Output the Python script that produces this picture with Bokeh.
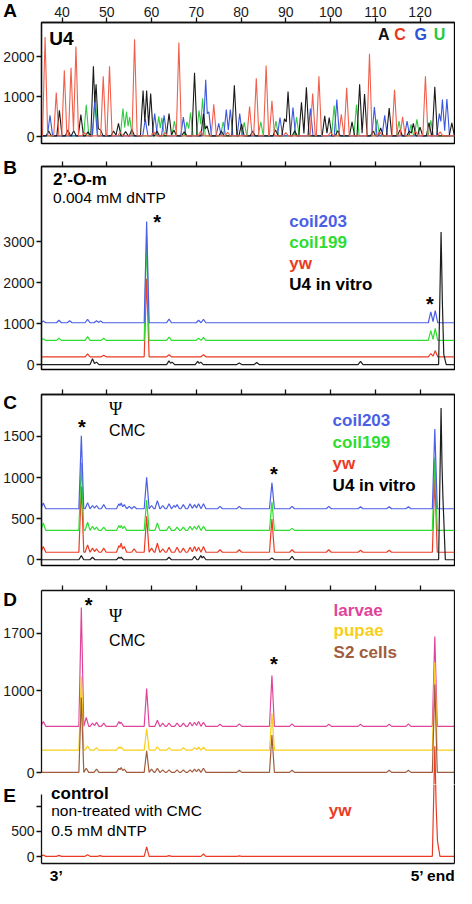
from bokeh.plotting import figure
from bokeh.models import Range1d, LinearAxis, FixedTicker, Label
from bokeh.layouts import column
from bokeh.core.properties import value
from bokeh.embed import file_html
from bokeh.resources import INLINE

# ---------------- data ----------------
X_RANGE = (35.4, 127.7)
TOP_TICKS = [40, 50, 60, 70, 80, 90, 100, 110, 120]
E_END_TICKS = [38.7, 123.3]
E_END_LABELS = ["3\u2019", "5\u2019 end"]

# Panel A: sequencing ladder peaks (position, height)
A_C = [(36.2, 2470), (38.7, 1085), (40.5, 1640), (42.0, 1700), (43.1, 2230), (45.0, 80), (49.2, 1490),
       (50.6, 1740), (53.0, 90), (56.2, 2410), (60.5, 100), (63.0, 80), (66.1, 2330), (71.0, 120),
       (73.9, 790), (77.0, 90), (81.9, 735), (83.4, 1440), (85.6, 1755), (86.9, 875), (90.0, 80),
       (96.0, 1060), (97.4, 1490), (100.0, 90), (102.4, 540), (103.6, 1200), (108.7, 2050), (111.0, 100),
       (114.3, 1150), (116.1, 475), (119.0, 120), (121.2, 1490), (124.5, 100)]
A_A = [(37.0, 120), (39.4, 640), (41.3, 150), (42.6, 130), (44.2, 530), (45.8, 100), (47.0, 1740),
       (47.6, 1290), (48.6, 150), (51.5, 120), (52.6, 310), (54.2, 110), (55.6, 160), (58.1, 1130),
       (58.9, 1130), (59.8, 1060), (61.2, 120), (63.9, 555), (65.0, 140), (67.3, 100), (69.6, 1575),
       (71.6, 555), (72.4, 250), (75.6, 120), (78.5, 1265), (80.1, 300), (82.6, 120), (87.7, 150),
       (89.7, 430), (90.5, 1110), (92.0, 130), (93.5, 840), (94.6, 1215), (98.7, 500), (99.7, 460),
       (101.6, 130), (104.8, 350), (106.5, 1290), (107.6, 1045), (109.5, 120), (111.2, 200), (113.1, 695),
       (115.5, 150), (117.6, 120), (118.5, 310), (120.0, 220), (122.0, 330), (123.3, 1225), (127.1, 325)]
A_G = [(37.3, 515), (47.3, 880), (58.6, 420), (60.7, 555), (62.8, 515), (67.1, 470), (72.1, 1400),
       (72.8, 600), (75.0, 310), (76.7, 660), (77.6, 660), (79.7, 555), (88.7, 460), (91.6, 710),
       (95.5, 680), (101.4, 905), (109.8, 720), (112.1, 515), (117.1, 370), (124.3, 555), (125.0, 905),
       (126.0, 920)]
A_U = [(45.4, 775), (47.4, 1000), (53.6, 680), (54.4, 610), (55.1, 470), (61.6, 490), (62.3, 450),
       (65.1, 370), (67.9, 350), (68.7, 580), (70.6, 640), (71.4, 940), (76.0, 350), (80.7, 335),
       (84.4, 350), (87.8, 370), (92.4, 470), (100.8, 760), (105.8, 775), (110.4, 410), (115.3, 370),
       (118.0, 285), (119.3, 415), (122.4, 390)]
A_BASE = 20

# Panel B: 2'-O-m, 0.004 mM dNTP (baseline, peaks above baseline)
B_BASES = {"coil203": 1020, "coil199": 590, "yw": 190, "U4 in vitro": 0}
B_COIL203 = [(35.8, 40), (39.3, 60), (41.7, 50), (45.7, 80), (47.7, 50), (48.6, 40), (58.9, 2470),
             (63.9, 90), (70.5, 60), (71.6, 80), (122.4, 265), (123.4, 295)]
B_COIL199 = [(35.8, 40), (39.3, 50), (45.7, 90), (49.3, 50), (58.9, 2520), (63.9, 80), (70.5, 50),
             (71.6, 70), (122.4, 240), (123.4, 295)]
B_YW = [(45.7, 70), (49.3, 40), (58.9, 1900), (63.9, 50), (71.6, 50), (122.4, 80), (123.4, 150)]
B_INVITRO = [(46.8, 140), (47.7, 60), (63.9, 90), (64.6, 60), (70.3, 80), (71.0, 60), (79.6, 40),
             (83.5, 50), (106.7, 80), (124.7, 3230), (125.3, 250)]

# Panel C: Psi / CMC
C_BASES = {"coil203": 620, "coil199": 357, "yw": 91, "U4 in vitro": 0}
C_COIL203 = [(35.8, 70), (44.3, 888), (45.7, 75), (46.8, 40), (47.7, 40), (49.3, 50), (52.7, 60),
             (53.2, 70), (53.9, 50), (55.0, 30), (56.1, 30), (58.9, 384), (60.0, 40), (61.3, 100),
             (62.5, 40), (63.9, 60), (65.0, 40), (65.7, 50), (67.1, 50), (68.6, 60), (69.6, 50),
             (70.5, 60), (71.6, 60), (75.3, 30), (79.6, 30), (86.9, 317), (91.4, 30), (99.6, 30),
             (106.7, 25), (113.1, 25), (117.4, 25), (123.3, 971)]
C_COIL199 = [(35.8, 90), (44.3, 826), (45.7, 100), (46.8, 50), (47.7, 40), (49.3, 40), (52.7, 60),
             (53.2, 60), (53.9, 50), (58.9, 369), (61.3, 90), (63.9, 50), (65.7, 40), (67.1, 40),
             (68.6, 50), (69.6, 50), (70.5, 60), (71.6, 50), (86.9, 349), (91.4, 25), (123.3, 885)]
C_YW = [(35.8, 70), (44.3, 800), (45.7, 90), (46.8, 50), (47.7, 40), (49.3, 50), (52.7, 80), (53.2, 110),
        (53.9, 70), (56.1, 40), (58.9, 437), (60.0, 50), (61.3, 110), (62.5, 40), (63.9, 60), (65.7, 60),
        (67.1, 50), (68.6, 60), (69.6, 70), (70.5, 60), (71.6, 70), (75.3, 30), (79.6, 30), (86.9, 405),
        (91.4, 30), (99.6, 30), (106.7, 25), (113.1, 25), (123.3, 905)]
C_INVITRO = [(44.3, 50), (46.8, 30), (52.7, 30), (53.2, 30), (63.9, 30), (69.6, 40), (71.0, 50),
             (71.6, 40), (86.9, 20), (91.4, 40), (124.7, 1845), (125.1, 780)]

# Panel D: Psi / CMC in tissues
D_BASES = {"larvae": 566, "pupae": 276, "S2 cells": 5}
D_LARVAE = [(35.8, 60), (44.3, 1450), (45.4, 110), (46.8, 40), (47.7, 50), (49.3, 40), (52.7, 60),
            (53.2, 50), (58.9, 460), (61.3, 75), (62.5, 40), (63.9, 40), (65.7, 40), (67.1, 40),
            (68.6, 50), (69.6, 50), (70.5, 60), (71.6, 50), (75.3, 25), (79.6, 30), (86.9, 619),
            (91.4, 30), (99.6, 25), (106.7, 25), (113.1, 25), (117.4, 30), (123.3, 1094)]
D_PUPAE = [(44.3, 897), (45.7, 50), (47.7, 30), (52.7, 40), (53.2, 40), (58.9, 261), (61.3, 40),
           (63.9, 30), (67.1, 30), (69.6, 30), (70.5, 35), (71.6, 35), (86.9, 448), (123.3, 1068)]
D_S2 = [(44.3, 912), (45.4, 50), (47.7, 40), (52.7, 50), (53.2, 60), (53.9, 40), (58.9, 264), (60.0, 40),
        (61.3, 50), (62.5, 30), (63.9, 30), (65.7, 30), (67.1, 30), (68.6, 30), (69.6, 40), (70.5, 40),
        (71.6, 50), (79.6, 25), (86.9, 455), (91.4, 25), (113.1, 25), (117.4, 25), (123.3, 1072)]

# Panel E: control, non-treated with CMC, 0.5 mM dNTP
E_BASE = 10
E_YW = [(35.8, 25), (39.3, 20), (45.7, 30), (48.5, 15), (58.9, 185), (63.9, 15), (71.6, 45),
        (79.6, 10), (123.3, 2150), (123.9, 300)]

# axis ranges / ticks
A_YR, A_YT = (-170, 2850), [0, 1000, 2000]
B_YR, B_YT = (-120, 4830), [0, 1000, 2000, 3000]
C_YR, C_YT = (-70, 2010), [0, 500, 1000, 1500]
D_YR, D_YT = (-143, 2222), [0, 1000, 1700]
E_YR, E_YT = (-131, 1426), [0, 500, 1000]
E_AXIS_TOP = 1238

# ---------------- styling ----------------
W = 455
SX = 455 / 472
SY = 886 / 904
BL, BR = 39, 1
FRAME_W = W - BL - BR
FONT = "Liberation Sans"
LW = 1.3
TICK_FS = "14px"
FRAME_H = {}

COL_A = {"A": "#1a1a1a", "C": "#f0604c", "G": "#3a57e0", "U": "#33c944"}
LEG_A = {"A": "#111111", "C": "#e8391d", "G": "#2b4fd6", "U": "#22c93c"}
COL_BLUE, COL_GREEN, COL_RED, COL_BLACK = "#4b5fe6", "#2fdc2f", "#ec3b24", "#1e1e1e"
COL_PINK, COL_YELLOW, COL_BROWN = "#e0449a", "#f8cf1a", "#a05c3c"


def trace_path(peaks, base, hw):
    pk = sorted(peaks)
    xs, ys = [X_RANGE[0]], [base]
    for i, (p, h) in enumerate(pk):
        if i == 0 or p - pk[i - 1][0] >= 2 * hw:
            xs.append(p - hw); ys.append(base)
        else:
            pp, ph = pk[i - 1]
            m = (p + pp) / 2
            v = max(ph * (1 - (m - pp) / hw), h * (1 - (p - m) / hw), 0)
            xs.append(m); ys.append(base + v)
        xs.append(p); ys.append(base + h)
        if i == len(pk) - 1 or pk[i + 1][0] - p >= 2 * hw:
            xs.append(p + hw); ys.append(base)
    xs.append(X_RANGE[1]); ys.append(base)
    return xs, ys


def make_fig(height, btop, bbot, yr, outline=True):
    p = figure(width=W, height=height, x_range=Range1d(*X_RANGE), y_range=Range1d(*yr),
               x_axis_location=None, y_axis_location=None, output_backend="svg",
               toolbar_location=None, min_border_left=BL, min_border_right=BR,
               min_border_top=btop, min_border_bottom=bbot)
    p.grid.visible = False
    p.outline_line_color = "black" if outline else None
    p.outline_line_width = LW
    FRAME_H[p.id] = height - btop - bbot
    return p


def axis_kw(labels=True):
    kw = dict(major_tick_out=5, major_tick_in=0, minor_tick_out=0, minor_tick_in=0,
              axis_line_width=LW, major_tick_line_width=LW, axis_line_color="#111111",
              major_tick_line_color="#111111",
              major_label_text_font=FONT, major_label_text_color="#1a1a1a",
              major_label_text_font_size=TICK_FS, major_label_standoff=2)
    if not labels:
        kw.update(major_label_text_font_size="0px", major_label_standoff=0,
                  major_label_text_color=None, major_label_text_alpha=0)
    return kw


def top_axis(p, labels=False):
    kw = axis_kw(labels)
    if labels:
        kw["major_label_standoff"] = 1
    p.add_layout(LinearAxis(ticker=FixedTicker(ticks=TOP_TICKS), **kw), "above")


def left_axis(p, ticks, bounds="auto", overrides=None):
    ax = LinearAxis(ticker=FixedTicker(ticks=ticks), bounds=bounds, **axis_kw(True))
    if overrides:
        ax.major_label_overrides = overrides
    p.add_layout(ax, "left")


def line_axis(p, side):
    kw = axis_kw(False)
    kw["major_tick_out"] = 0
    p.add_layout(LinearAxis(ticker=FixedTicker(ticks=[]), **kw), side)


def draw(p, peaks, base, color, hw=0.55, width=1.2, **kw):
    xs, ys = trace_path(peaks, base, hw)
    p.line(xs, ys, line_color=color, line_width=width, **kw)


def txt(p, fb_ref, x_ref, y_ref, text, size, color="black", bold=False, align="left",
        font=FONT):
    p.add_layout(Label(x=(x_ref - 40) * SX, y=(fb_ref - y_ref) * SY, x_units="screen",
                       y_units="screen", text=text, text_font=font,
                       text_font_size=f"{size}px", text_font_style="bold" if bold else "normal",
                       text_color=color, text_align=align, text_baseline="middle"))


def outer_txt(p, fb_ref, yr, x_ref, y_ref, text, size, bold=True):
    # text that reaches outside the frame, positioned through the figure's own scales
    xpp = (X_RANGE[1] - X_RANGE[0]) / FRAME_W
    ypp = (yr[1] - yr[0]) / FRAME_H[p.id]
    x = X_RANGE[0] + (x_ref - 40) * SX * xpp
    y = yr[0] + (fb_ref - y_ref) * SY * ypp
    p.text(x=[x], y=[y], text=[text], text_font=value(FONT), text_font_size=value(f"{size}px"),
           text_font_style="bold" if bold else "normal", text_color="black",
           text_align="left", text_baseline="middle", level="overlay")


def star(p, fb_ref, x_ref, y_ref):
    txt(p, fb_ref, x_ref, y_ref + 5, "*", 20, bold=True, align="center")


# ---------------- panel A ----------------
pA = make_fig(154, 22, 11, A_YR)
top_axis(pA, labels=True)
left_axis(pA, A_YT)
for key, pk in (("U", A_U), ("G", A_G), ("A", A_A), ("C", A_C)):
    draw(pA, pk, A_BASE, COL_A[key], hw=0.58, width=1.1)
FA = 145
outer_txt(pA, FA, A_YR, 0, 9, "A", 19)
txt(pA, FA, 48, 38, "U4", 19, bold=True)
for xr, key in ((389, "A"), (406, "C"), (427, "G"), (447, "U")):
    txt(pA, FA, xr, 34, key, 16, color=LEG_A[key], bold=True)

# ---------------- panel B ----------------
pB = make_fig(228, 12, 13, B_YR)
top_axis(pB)
left_axis(pB, B_YT)
draw(pB, B_YW, B_BASES["yw"], COL_RED)
draw(pB, B_COIL199, B_BASES["coil199"], COL_GREEN)
draw(pB, B_COIL203, B_BASES["coil203"], COL_BLUE)
draw(pB, B_INVITRO, B_BASES["U4 in vitro"], COL_BLACK)
FB = 377
outer_txt(pB, FB, B_YR, 0, 171, "B", 19)
txt(pB, FB, 52, 183, "2\u2019-O-m", 17, bold=True)
txt(pB, FB, 52, 202, "0.004 mM dNTP", 15.5)
star(pB, FB, 160, 222)
star(pB, FB, 443, 305)
for yr_, name, col in ((226, "coil203", COL_BLUE), (247, "coil199", COL_GREEN),
                       (269, "yw", COL_RED), (290, "U4 in vitro", "black")):
    txt(pB, FB, 297, yr_, name, 17, color=col, bold=True)

# ---------------- panel C ----------------
pC = make_fig(196, 12, 13, C_YR)
top_axis(pC)
left_axis(pC, C_YT)
draw(pC, C_YW, C_BASES["yw"], COL_RED)
draw(pC, C_COIL199, C_BASES["coil199"], COL_GREEN)
draw(pC, C_COIL203, C_BASES["coil203"], COL_BLUE)
draw(pC, C_INVITRO, C_BASES["U4 in vitro"], COL_BLACK)
FC = 577
outer_txt(pC, FC, C_YR, 0, 411, "C", 19)
txt(pC, FC, 110, 417, "\u03a8", 18, font="Liberation Serif")
txt(pC, FC, 110, 439, "CMC", 16)
star(pC, FC, 82, 431)
star(pC, FC, 281, 479)
for yr_, name, col in ((429, "coil203", COL_BLUE), (451, "coil199", COL_GREEN),
                       (473, "yw", COL_RED), (495, "U4 in vitro", "black")):
    txt(pC, FC, 342, yr_, name, 17, color=col, bold=True)

# ---------------- panels D and E ----------------
D_H, D_TOP = 206, 12
E_H, E_BOT = 102, 21
pD = make_fig(D_H, D_TOP, 0, D_YR, outline=False)
pE = make_fig(E_H, 0, E_BOT, E_YR, outline=False)

# E's scale continued upward into D so that E's tall peak is not cut
e_per_px = (E_YR[1] - E_YR[0]) / (E_H - E_BOT)
pD.extra_y_ranges = {"E": Range1d(E_YR[1], E_YR[1] + (D_H - D_TOP) * e_per_px)}

top_axis(pD)
left_axis(pD, D_YT, bounds=(0, D_YR[1]))
line_axis(pD, "right")
draw(pD, E_YW, E_BASE, COL_RED, y_range_name="E")
draw(pD, D_LARVAE, D_BASES["larvae"], COL_PINK)
draw(pD, D_PUPAE, D_BASES["pupae"], COL_YELLOW)
draw(pD, D_S2, D_BASES["S2 cells"], COL_BROWN)
FD = 800
outer_txt(pD, FD, D_YR, 0, 611, "D", 19)
star(pD, FD, 89, 612)
txt(pD, FD, 110, 628, "\u03a8", 18, font="Liberation Serif")
txt(pD, FD, 110, 653, "CMC", 16)
star(pD, FD, 281, 672)
for yr_, name, col in ((622, "larvae", COL_PINK), (643, "pupae", COL_YELLOW),
                       (665, "S2 cells", COL_BROWN)):
    txt(pD, FD, 343, yr_, name, 17, color=col, bold=True)

left_axis(pE, E_YT, bounds=(E_YR[0], E_AXIS_TOP), overrides={1000: ""})
line_axis(pE, "right")
bottom = LinearAxis(ticker=FixedTicker(ticks=E_END_TICKS),
                    major_label_overrides=dict(zip(E_END_TICKS, E_END_LABELS)),
                    major_tick_out=0, major_tick_in=0, minor_tick_out=0, minor_tick_in=0,
                    axis_line_width=LW, axis_line_color="#111111",
                    major_label_text_font=FONT, major_label_text_font_style="bold",
                    major_label_text_font_size="15.5px", major_label_text_color="black",
                    major_label_standoff=3)
pE.add_layout(bottom, "below")
draw(pE, E_YW, E_BASE, COL_RED)
FE = 883
outer_txt(pE, FE, E_YR, 0, 812, "E", 19)
outer_txt(pE, FE, E_YR, 50, 810, "control", 17)
txt(pE, FE, 50, 829, "non-treated with CMC", 15.5)
txt(pE, FE, 50, 849, "0.5 mM dNTP", 15.5)
txt(pE, FE, 338, 829, "yw", 17, color=COL_RED, bold=True)

layout = column(pA, pB, pC, pD, pE, spacing=0)
open("out.html", "w").write(file_html(layout, INLINE))
